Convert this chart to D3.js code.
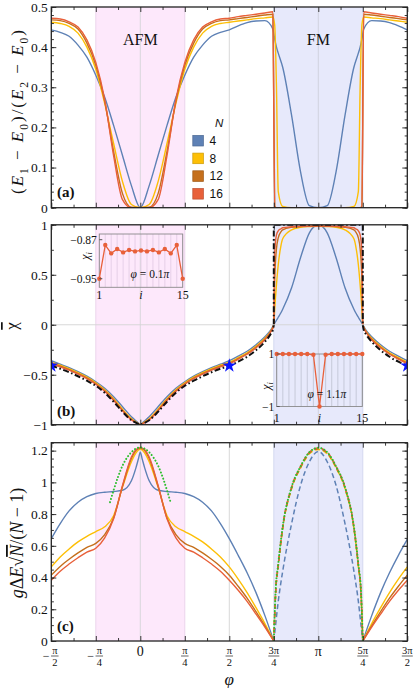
<!DOCTYPE html>
<html>
<head>
<meta charset="utf-8">
<script src="https://cdn.jsdelivr.net/npm/d3@7"></script>
<style>
  body { margin: 0; background: #fff; }
  text { font-family: "Liberation Serif", "DejaVu Serif", serif; fill: #111; }
</style>
</head>
<body>
<svg id="fig" width="416" height="688"></svg>
<script>
// all phi values are in units of pi
const Ns = ["4", "8", "12", "16"];
const colors = ["#5e81b5", "#fdbf06", "#c56f1c", "#e8603a"];

// (a) gap ratio (E1-E0)/(E2-E0)
const phiA = [-0.5,-0.45,-0.4,-0.35,-0.3,-0.25,-0.2,-0.15,-0.1,-0.05,0,0.05,0.1,0.15,0.2,0.25,0.3,0.35,0.4,0.45,0.5,0.55,0.6,0.65,0.7,0.745,0.755,0.765,0.775,0.8,0.85,0.9,0.95,1,1.05,1.1,1.15,1.2,1.225,1.235,1.245,1.255,1.3,1.35,1.4,1.45,1.5];
const gapN4 = [0.443,0.437,0.427,0.405,0.375,0.33,0.275,0.205,0.13,0.055,0,0.055,0.13,0.205,0.275,0.33,0.375,0.405,0.427,0.437,0.443,0.453,0.461,0.465,0.466,0.445,0.42,0.4,0.385,0.35,0.23,0.09,0.005,0,0.005,0.09,0.23,0.35,0.385,0.4,0.42,0.445,0.466,0.465,0.461,0.453,0.443];
const gapN8 = [0.462,0.459,0.452,0.435,0.4,0.345,0.26,0.16,0.065,0.008,0,0.008,0.065,0.16,0.26,0.345,0.4,0.435,0.452,0.459,0.462,0.465,0.468,0.471,0.473,0.475,0.455,0.3,0.04,0.003,0,0,0,0,0,0,0,0.003,0.04,0.3,0.455,0.475,0.473,0.471,0.468,0.465,0.462];
const gapN12 = [0.468,0.466,0.459,0.445,0.41,0.355,0.265,0.14,0.035,0.001,0,0.001,0.035,0.14,0.265,0.355,0.41,0.445,0.459,0.466,0.468,0.471,0.474,0.477,0.48,0.482,0.004,0,0,0,0,0,0,0,0,0,0,0,0,0,0.004,0.482,0.48,0.477,0.474,0.471,0.468];
const gapN16 = [0.472,0.47,0.463,0.45,0.418,0.362,0.27,0.13,0.02,0,0,0,0.02,0.13,0.27,0.362,0.418,0.45,0.463,0.47,0.472,0.476,0.479,0.482,0.485,0.488,0,0,0,0,0,0,0,0,0,0,0,0,0,0,0,0.488,0.485,0.482,0.479,0.476,0.472];

// (b) mean chi
const phiB = [-0.5,-0.45,-0.4,-0.35,-0.3,-0.25,-0.2,-0.15,-0.1,-0.05,-0.02,0,0.02,0.05,0.1,0.15,0.2,0.25,0.3,0.35,0.4,0.45,0.5,0.55,0.6,0.65,0.7,0.73,0.75,0.755,0.765,0.775,0.79,0.8,0.85,0.9,0.95,1,1.05,1.1,1.15,1.2,1.21,1.225,1.235,1.245,1.25,1.27,1.3,1.35,1.4,1.45,1.5];
const chiN4 = [-0.36,-0.395,-0.43,-0.47,-0.515,-0.57,-0.635,-0.72,-0.82,-0.92,-0.968,-1,-0.968,-0.92,-0.82,-0.72,-0.635,-0.57,-0.515,-0.47,-0.43,-0.395,-0.36,-0.315,-0.265,-0.2,-0.12,-0.06,0,0.015,0.045,0.075,0.12,0.155,0.37,0.67,0.92,1,0.92,0.67,0.37,0.155,0.12,0.075,0.045,0.015,0,-0.06,-0.12,-0.2,-0.265,-0.315,-0.36];
const chiN8 = [-0.375,-0.405,-0.44,-0.48,-0.525,-0.58,-0.65,-0.74,-0.845,-0.94,-0.978,-1,-0.978,-0.94,-0.845,-0.74,-0.65,-0.58,-0.525,-0.48,-0.44,-0.405,-0.375,-0.33,-0.28,-0.215,-0.135,-0.07,0,0.15,0.4,0.6,0.79,0.86,0.95,0.975,0.983,0.986,0.983,0.975,0.95,0.86,0.79,0.6,0.4,0.15,0,-0.07,-0.135,-0.215,-0.28,-0.33,-0.375];
const chiN12 = [-0.385,-0.415,-0.45,-0.49,-0.535,-0.59,-0.66,-0.75,-0.855,-0.948,-0.982,-1,-0.982,-0.948,-0.855,-0.75,-0.66,-0.59,-0.535,-0.49,-0.45,-0.415,-0.385,-0.34,-0.29,-0.225,-0.145,-0.075,0,0.45,0.76,0.87,0.93,0.95,0.975,0.982,0.985,0.987,0.985,0.982,0.975,0.95,0.93,0.87,0.76,0.45,0,-0.075,-0.145,-0.225,-0.29,-0.34,-0.385];
const chiN16 = [-0.39,-0.42,-0.455,-0.495,-0.54,-0.595,-0.665,-0.755,-0.86,-0.952,-0.984,-1,-0.984,-0.952,-0.86,-0.755,-0.665,-0.595,-0.54,-0.495,-0.455,-0.42,-0.39,-0.345,-0.295,-0.23,-0.15,-0.08,0,0.72,0.9,0.94,0.96,0.97,0.98,0.985,0.987,0.988,0.987,0.985,0.98,0.97,0.96,0.94,0.9,0.72,0,-0.08,-0.15,-0.23,-0.295,-0.345,-0.39];
// black dash-dot (limit), three pieces
const phiBlackL = [-0.5,-0.45,-0.4,-0.35,-0.3,-0.25,-0.2,-0.15,-0.1,-0.05,-0.02,0,0.02,0.05,0.1,0.15,0.2,0.25,0.3,0.35,0.4,0.45,0.5,0.55,0.6,0.65,0.7,0.73,0.745,0.75];
const chiBlackL = [-0.41,-0.44,-0.475,-0.515,-0.56,-0.61,-0.68,-0.77,-0.87,-0.955,-0.985,-1,-0.985,-0.955,-0.87,-0.77,-0.68,-0.61,-0.56,-0.515,-0.475,-0.44,-0.41,-0.37,-0.32,-0.255,-0.17,-0.1,-0.05,0];
const phiBlackFM = [0.75,0.75,1.25,1.25];
const chiBlackFM = [0,1,1,0];
const phiBlackR = [1.25,1.255,1.27,1.3,1.35,1.4,1.45,1.5];
const chiBlackR = [0,-0.05,-0.1,-0.17,-0.255,-0.32,-0.37,-0.41];
const starPhi = [-0.5, 0.5, 1.5];
const starChi = [-0.41, -0.41, -0.41];

// insets of (b)
const sites = [1,2,3,4,5,6,7,8,9,10,11,12,13,14,15];
const chiSitesAFM = [-0.95,-0.881,-0.898,-0.889,-0.896,-0.891,-0.894,-0.892,-0.894,-0.891,-0.896,-0.889,-0.898,-0.881,-0.95];
const chiSitesFM = [1,1,1,1,1,1,0.97,-1,0.97,1,1,1,1,1,1];

// (c) scaled gap
const phiC = [-0.5,-0.45,-0.4,-0.35,-0.3,-0.25,-0.2,-0.15,-0.1,-0.05,-0.025,-0.01,0,0.01,0.025,0.05,0.1,0.15,0.2,0.25,0.3,0.35,0.4,0.45,0.5,0.55,0.6,0.65,0.7,0.75];
const dgN4 = [0.645,0.74,0.82,0.875,0.91,0.93,0.938,0.942,0.95,1.01,1.09,1.15,1.19,1.15,1.09,1.01,0.95,0.942,0.938,0.93,0.91,0.875,0.82,0.74,0.645,0.54,0.43,0.305,0.16,0];
const dgN8 = [0.467,0.53,0.58,0.625,0.66,0.69,0.72,0.79,0.97,1.13,1.185,1.204,1.21,1.204,1.185,1.13,0.97,0.79,0.72,0.69,0.66,0.625,0.58,0.53,0.467,0.39,0.305,0.21,0.11,0];
const dgN12 = [0.415,0.47,0.515,0.555,0.59,0.615,0.67,0.775,0.975,1.15,1.2,1.212,1.215,1.212,1.2,1.15,0.975,0.775,0.67,0.615,0.59,0.555,0.515,0.47,0.415,0.345,0.27,0.185,0.095,0];
const dgN16 = [0.383,0.44,0.485,0.525,0.56,0.585,0.65,0.77,0.98,1.16,1.205,1.216,1.218,1.216,1.205,1.16,0.98,0.77,0.65,0.585,0.56,0.525,0.485,0.44,0.383,0.32,0.25,0.17,0.088,0];
const phiCR = [1.25,1.3,1.35,1.4,1.45,1.5];
const dgN4R = [0,0.16,0.305,0.43,0.54,0.64];
const dgN8R = [0,0.11,0.21,0.305,0.39,0.467];
const dgN12R = [0,0.095,0.185,0.27,0.345,0.415];
const dgN16R = [0,0.088,0.17,0.25,0.32,0.383];
const phiFM = [0.75,0.76,0.775,0.8,0.85,0.9,0.95,1,1.05,1.1,1.15,1.2,1.225,1.24,1.25];
const dgN4FM = [0,0.1,0.25,0.44,0.74,0.98,1.13,1.195,1.13,0.98,0.74,0.44,0.25,0.1,0];
const dgN8FM = [0,0.29,0.47,0.71,0.96,1.09,1.18,1.207,1.18,1.09,0.96,0.71,0.47,0.29,0];
const dgN12FM = [0,0.3,0.475,0.715,0.965,1.095,1.185,1.212,1.185,1.095,0.965,0.715,0.475,0.3,0];
const dgN16FM = [0,0.3,0.48,0.72,0.97,1.1,1.19,1.217,1.19,1.1,0.97,0.72,0.48,0.3,0];
const greenFM = [0,0.31,0.485,0.72,0.97,1.1,1.19,1.218,1.19,1.1,0.97,0.72,0.485,0.31,0];
const phiGreenAFM = [-0.17,-0.15,-0.1,-0.05,0,0.05,0.1,0.15,0.17];
const greenAFM = [0.875,0.95,1.105,1.19,1.22,1.19,1.105,0.95,0.875];

// axis ticks
const xMajor = [-0.5,-0.25,0,0.25,0.5,0.75,1,1.25,1.5];
const xMinor = [-0.375,-0.125,0.125,0.375,0.625,0.875,1.125,1.375];
const xLabels = [["−","π","2"],["−","π","4"],["","0",""],["","π","4"],["","π","2"],["","3π","4"],["","π",""],["","5π","4"],["","3π","2"]];
const yTicksA = [0,0.1,0.2,0.3,0.4,0.5], yLabA = ["0","0.1","0.2","0.3","0.4","0.5"];
const yTicksB = [-1,-0.5,0,0.5,1], yLabB = ["−1","−0.5","0","0.5","1"];
const yTicksC = [0,0.2,0.4,0.6,0.8,1,1.2], yLabC = ["0","0.2","0.4","0.6","0.8","1","1.2"];

const svg = d3.select("#fig");
const pink = "#fde8fb", lav = "#e7e9fb";
const x = d3.scaleLinear().domain([-0.5, 1.5]).range([51.3, 407.3]);
const zip = (a, b) => a.map((v, i) => [v, b[i]]);
const smooth = (sy) => d3.line().x(d => x(d[0])).y(d => sy(d[1])).curve(d3.curveMonotoneX);

function makePanel(name, top, bottom, dom) {
  const y = d3.scaleLinear().domain(dom).range([bottom, top]);
  const g = svg.append("g");
  const left = x(-0.5), w = x(1.5) - x(-0.5), h = bottom - top;
  svg.append("clipPath").attr("id", "clip" + name)
    .append("rect").attr("x", left).attr("y", top).attr("width", w).attr("height", h);
  g.append("rect").attr("x", x(-0.25)).attr("y", top).attr("width", x(0.25) - x(-0.25)).attr("height", h).attr("fill", pink);
  g.append("rect").attr("x", x(0.75)).attr("y", top).attr("width", x(1.25) - x(0.75)).attr("height", h).attr("fill", lav);
  [[-0.25, "#ead2ea"], [0.25, "#ead2ea"], [0.75, "#d3d6ee"], [1.25, "#d3d6ee"], [0, "#d4d4d8"], [0.5, "#d4d4d4"], [1, "#cfd0dc"]]
    .forEach(([v, c]) => g.append("line").attr("x1", x(v)).attr("x2", x(v)).attr("y1", top).attr("y2", bottom)
      .attr("stroke", c).attr("stroke-width", 0.9));
  const plot = g.append("g").attr("clip-path", "url(#clip" + name + ")");
  return { g, y, plot, top, bottom };
}

function tickSet(g, axisFn, scale, vals, size, tx, ty) {
  const a = g.append("g").attr("transform", `translate(${tx},${ty})`)
    .call(axisFn(scale).tickValues(vals).tickSize(-size).tickFormat(""));
  a.select(".domain").remove();
  a.selectAll("line").attr("stroke", "#222").attr("stroke-width", 0.9);
}

function finishPanel(p, yMajor, yLab, yMinor) {
  const left = x(-0.5), right = x(1.5);
  tickSet(p.g, d3.axisBottom, x, xMajor, 5, 0, p.bottom);
  tickSet(p.g, d3.axisBottom, x, xMinor, 3, 0, p.bottom);
  tickSet(p.g, d3.axisTop, x, xMajor, 5, 0, p.top);
  tickSet(p.g, d3.axisTop, x, xMinor, 3, 0, p.top);
  tickSet(p.g, d3.axisLeft, p.y, yMajor, 5, left, 0);
  tickSet(p.g, d3.axisLeft, p.y, yMinor, 2.6, left, 0);
  tickSet(p.g, d3.axisRight, p.y, yMajor, 5, right, 0);
  tickSet(p.g, d3.axisRight, p.y, yMinor, 2.6, right, 0);
  p.g.append("rect").attr("x", left).attr("y", p.top).attr("width", right - left).attr("height", p.bottom - p.top)
    .attr("fill", "none").attr("stroke", "#222").attr("stroke-width", 1.3);
  p.g.selectAll(".ylab").data(yMajor).enter().append("text")
    .attr("x", left - 3.5).attr("y", d => p.y(d)).attr("dy", "0.36em")
    .attr("text-anchor", "end").attr("font-size", 13.5)
    .text((d, i) => yLab[i]);
}

function drawSeries(p, phi, vals, color, width, dash) {
  const path = p.plot.append("path").datum(zip(phi, vals))
    .attr("d", smooth(p.y)).attr("fill", "none")
    .attr("stroke", color).attr("stroke-width", width);
  if (dash) path.attr("stroke-dasharray", dash);
  return path;
}

function richText(sel, parts, size) {
  const t = sel.append("text").attr("font-size", size).attr("text-anchor", "middle");
  let shifted = false;
  parts.forEach(([s, st]) => {
    const ts = t.append("tspan").text(s);
    if (st.includes("i")) ts.attr("font-style", "italic");
    if (st.includes("o")) ts.style("text-decoration", "overline");
    if (st.includes("s")) {
      ts.attr("font-size", size * 0.68);
      if (!shifted) { ts.attr("dy", size * 0.28); shifted = true; }
    } else if (shifted) { ts.attr("dy", -size * 0.28); shifted = false; }
  });
  return t;
}

// ---------- (a)
const pa = makePanel("a", 7, 207.7, [0, 0.5]);
[gapN4, gapN8, gapN12, gapN16].forEach((s, k) => drawSeries(pa, phiA, s, colors[k], 1.4));
finishPanel(pa, yTicksA, yLabA, d3.range(0, 0.5001, 0.02));
pa.g.append("text").attr("x", x(0)).attr("y", 45).attr("text-anchor", "middle").attr("font-size", 16).text("AFM");
pa.g.append("text").attr("x", x(1)).attr("y", 45).attr("text-anchor", "middle").attr("font-size", 16).text("FM");
pa.g.append("text").attr("x", 57).attr("y", 197).attr("font-size", 15).attr("font-weight", "bold").text("(a)");

// legend
const leg = pa.g.append("g");
leg.append("text").attr("x", 215).attr("y", 127).attr("font-size", 11.5).attr("font-style", "italic")
  .style("font-family", "'Liberation Sans', Arial, sans-serif").text("N");
Ns.forEach((n, k) => {
  const cy = 140.7 + k * 17.7;
  leg.append("rect").attr("x", 192.8).attr("y", cy - 5.3).attr("width", 10.6).attr("height", 10.6)
    .attr("fill", colors[k]).attr("stroke", d3.color(colors[k]).darker(0.6)).attr("stroke-width", 0.7);
  leg.append("text").attr("x", 209.5).attr("y", cy + 4.2).attr("font-size", 12)
    .style("font-family", "'Liberation Sans', Arial, sans-serif").text(n);
});

// ---------- (b)
const pb = makePanel("b", 224.8, 424.7, [-1, 1]);
pb.g.append("line").attr("x1", x(-0.5)).attr("x2", x(1.5)).attr("y1", pb.y(0)).attr("y2", pb.y(0))
  .attr("stroke", "#d4d4d4").attr("stroke-width", 0.9);
[chiN4, chiN8, chiN12, chiN16].forEach((s, k) => drawSeries(pb, phiB, s, colors[k], 1.4));
const blackDash = "6,2.5,1.6,2.5";
drawSeries(pb, phiBlackL, chiBlackL, "#111", 2, blackDash);
drawSeries(pb, phiBlackR, chiBlackR, "#111", 2, blackDash);
pb.plot.append("path").datum(zip(phiBlackFM, chiBlackFM))
  .attr("d", d3.line().x(d => x(d[0])).y(d => pb.y(d[1])))
  .attr("fill", "none").attr("stroke", "#111").attr("stroke-width", 2).attr("stroke-dasharray", blackDash);
pb.plot.selectAll(".star").data(zip(starPhi, starChi)).enter().append("path")
  .attr("transform", d => `translate(${x(d[0])},${pb.y(d[1])})`)
  .attr("d", d3.symbol(d3.symbolStar).size(62)).attr("fill", "#0a14ff");
finishPanel(pb, yTicksB, yLabB, d3.range(-1, 1.001, 0.25));
pb.g.append("text").attr("x", 57).attr("y", 416).attr("font-size", 15).attr("font-weight", "bold").text("(b)");

// inset drawing
function drawInset(g, xs, ys, fy0, fy1, vals, yTickVals, yTickLab, lab, labX, labY, chiX, chiY, bottomY, gridColor) {
  const x0 = xs.range()[0], x1 = xs.range()[1];
  sites.forEach(i => g.append("line").attr("x1", xs(i)).attr("x2", xs(i)).attr("y1", fy0).attr("y2", fy1)
    .attr("stroke", gridColor).attr("stroke-width", 0.7));
  g.append("rect").attr("x", x0).attr("y", fy0).attr("width", x1 - x0).attr("height", fy1 - fy0)
    .attr("fill", "none").attr("stroke", "#8a8a8a").attr("stroke-width", 0.9);
  g.append("path").datum(zip(sites, vals))
    .attr("d", d3.line().x(d => xs(d[0])).y(d => ys(d[1])))
    .attr("fill", "none").attr("stroke", "#e8603a").attr("stroke-width", 1.3);
  g.selectAll(null).data(zip(sites, vals)).enter().append("circle")
    .attr("cx", d => xs(d[0])).attr("cy", d => ys(d[1])).attr("r", 2.2).attr("fill", "#e8603a");
  yTickVals.forEach((v, i) => {
    g.append("line").attr("x1", x0).attr("x2", x0 + 3).attr("y1", ys(v)).attr("y2", ys(v)).attr("stroke", "#555");
    g.append("text").attr("x", x0 - 2.5).attr("y", ys(v)).attr("dy", "0.36em").attr("text-anchor", "end")
      .attr("font-size", 11.5).text(yTickLab[i]);
  });
  g.append("text").attr("x", xs(1)).attr("y", bottomY).attr("text-anchor", "middle").attr("font-size", 12).text("1");
  g.append("text").attr("x", xs(15)).attr("y", bottomY).attr("text-anchor", "middle").attr("font-size", 12).text("15");
  g.append("text").attr("x", xs(8)).attr("y", bottomY).attr("text-anchor", "middle").attr("font-size", 12)
    .attr("font-style", "italic").text("i");
  const cg = g.append("g").attr("transform", `translate(${chiX},${chiY}) rotate(-90)`);
  richText(cg, [["χ", "i"], ["i", "is"]], 12);
  const t = g.append("text").attr("x", labX).attr("y", labY).attr("text-anchor", "middle").attr("font-size", 11.5);
  t.append("tspan").attr("font-style", "italic").text("φ");
  t.append("tspan").text(" = " + lab);
  t.append("tspan").attr("font-style", "italic").text("π");
}
const xi1 = d3.scaleLinear().domain([1, 15]).range([99.3, 182.7]);
const yi1 = d3.scaleLinear().domain([-0.95, -0.87]).range([278.7, 239.7]);
drawInset(pb.g, xi1, yi1, 234, 287.3, chiSitesAFM, [-0.87, -0.95], ["−0.87", "−0.95"], "0.1", 150, 278, 89, 256, 298.5, "#dcc6e0");
const xi2 = d3.scaleLinear().domain([1, 15]).range([276.7, 362.3]);
const yi2 = d3.scaleLinear().domain([-1, 1]).range([406.5, 354]);
drawInset(pb.g, xi2, yi2, 354, 406.5, chiSitesFM, [1, -1], ["1", "−1"], "1.1", 327, 398, 270, 386, 421.5, "#b8bbcc");

// ---------- (c)
const pc = makePanel("c", 442.7, 641, [0, 1.25]);
[dgN4, dgN8, dgN12, dgN16].forEach((s, k) => drawSeries(pc, phiC, s, colors[k], 1.4));
[dgN4R, dgN8R, dgN12R, dgN16R].forEach((s, k) => drawSeries(pc, phiCR, s, colors[k], 1.4));
[dgN4FM, dgN8FM, dgN12FM, dgN16FM].forEach((s, k) => drawSeries(pc, phiFM, s, colors[k], 1.5, "5,3"));
drawSeries(pc, phiFM, greenFM, "#2fbf2f", 2, "0.1,3.2").attr("stroke-linecap", "round");
drawSeries(pc, phiGreenAFM, greenAFM, "#2fbf2f", 2, "0.1,3.2").attr("stroke-linecap", "round");
finishPanel(pc, yTicksC, yLabC, d3.range(0, 1.2501, 0.05));
pc.g.append("text").attr("x", 57).attr("y", 631).attr("font-size", 15).attr("font-weight", "bold").text("(c)");

// x tick labels (bottom panel only)
xMajor.forEach((v, i) => {
  const [neg, num, den] = xLabels[i];
  const cx = x(v) + (neg ? 3.5 : 0);
  if (!den) {
    svg.append("text").attr("x", cx).attr("y", 656).attr("text-anchor", "middle").attr("font-size", 14).text(num);
    return;
  }
  const w = num.length > 1 ? 11 : 7.5;
  svg.append("text").attr("x", cx).attr("y", 654).attr("text-anchor", "middle").attr("font-size", 10.5).text(num);
  svg.append("line").attr("x1", cx - w / 2).attr("x2", cx + w / 2).attr("y1", 656).attr("y2", 656)
    .attr("stroke", "#222").attr("stroke-width", 0.7);
  svg.append("text").attr("x", cx).attr("y", 665.5).attr("text-anchor", "middle").attr("font-size", 10.5).text(den);
  if (neg) svg.append("text").attr("x", cx - w / 2 - 1.5).attr("y", 660).attr("text-anchor", "end").attr("font-size", 12).text(neg);
});
svg.append("text").attr("x", x(0.5)).attr("y", 685).attr("text-anchor", "middle")
  .attr("font-size", 17).attr("font-style", "italic").text("φ");

// y axis titles
const ta = svg.append("g").attr("transform", "translate(23,112) rotate(-90)");
richText(ta, [["(", ""], ["E", "i"], ["1", "s"], [" − ", ""], ["E", "i"], ["0", "s"], [")/(", ""], ["E", "i"], ["2", "s"], [" − ", ""], ["E", "i"], ["0", "s"], [")", ""]], 17)
  .attr("textLength", 164).attr("lengthAdjust", "spacing");
const tb = svg.append("g").attr("transform", "translate(17,326) rotate(-90)");
richText(tb, [["χ", "o"]], 17);
const tc = svg.append("g").attr("transform", "translate(23,543) rotate(-90)");
richText(tc, [["g", "i"], ["Δ", ""], ["E", "i"], ["√", ""], ["N", "io"], ["/(", ""], ["N", "i"], [" − 1)", ""]], 18);
</script>
</body>
</html>
